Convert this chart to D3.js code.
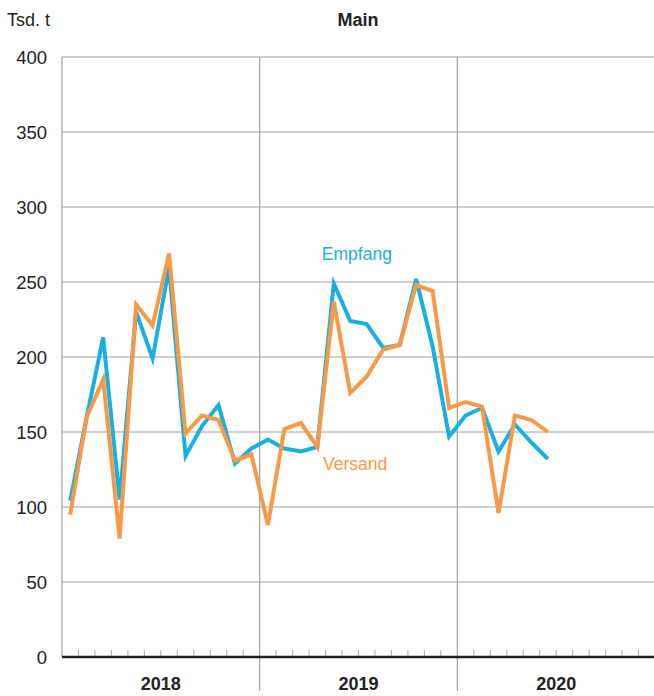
<!DOCTYPE html>
<html>
<head>
<meta charset="utf-8">
<script src="https://cdn.jsdelivr.net/npm/d3@7"></script>
<style>
  body { margin: 0; background: #fff; }
  text { font-family: "Liberation Sans", Arial, Helvetica, sans-serif; }
</style>
</head>
<body>
<div id="chart"></div>
<script>
// monthly values, Jan 2018 .. Jun 2020 (Tsd. t)
var years = ["2018", "2019", "2020"];
var empfang = [104, 160, 213, 105, 230, 199, 260, 134, 154, 168, 129, 139,
               145, 139, 137, 140, 249, 224, 222, 206, 208, 252, 207, 147,
               161, 166, 137, 155, 143, 132];
var versand = [95, 160, 185, 79, 235, 221, 269, 149, 161, 158, 131, 135,
               88, 152, 156, 140, 237, 176, 187, 205, 208, 248, 244, 166,
               170, 167, 96, 161, 158, 150];
var yTicks = [0, 50, 100, 150, 200, 250, 300, 350, 400];

var W = 654, H = 696;
var margin = { top: 57, right: 0, bottom: 39, left: 62 },
    width = 655 - margin.left,
    height = H - margin.top - margin.bottom;

var blue = "#19b0e0", orange = "#f79946";

var svg = d3.select("#chart").append("svg")
    .attr("width", W)
    .attr("height", H);

var g = svg.append("g")
    .attr("transform", "translate(" + margin.left + "," + margin.top + ")");

// 36 months on the axis
var x = d3.scaleLinear().domain([0, 36]).range([0, width]);
var y = d3.scaleLinear().domain([0, 400]).range([height, 0]);

// horizontal grid
g.selectAll(".hgrid")
    .data(yTicks.filter(function (d) { return d > 0; }))
    .enter().append("line")
    .attr("x1", 0).attr("x2", width)
    .attr("y1", function (d) { return y(d); })
    .attr("y2", function (d) { return y(d); })
    .attr("stroke", "#a0a0a0").attr("stroke-width", 1.2);

// y axis labels
g.selectAll(".ylab")
    .data(yTicks)
    .enter().append("text")
    .attr("x", -15)
    .attr("y", function (d) { return y(d); })
    .attr("dy", "0.36em")
    .attr("text-anchor", "end")
    .attr("font-size", 18.5)
    .attr("fill", "#222")
    .text(function (d) { return d; });

// left axis line
g.append("line")
    .attr("x1", 0).attr("x2", 0)
    .attr("y1", 0).attr("y2", height)
    .attr("stroke", "#a0a0a0").attr("stroke-width", 1.2);

// year separators
g.selectAll(".ysep")
    .data([12, 24])
    .enter().append("line")
    .attr("x1", function (d) { return x(d); })
    .attr("x2", function (d) { return x(d); })
    .attr("y1", 0).attr("y2", height + 34)
    .attr("stroke", "#a0a0a0").attr("stroke-width", 1.2);

// month ticks
g.selectAll(".mtick")
    .data(d3.range(1, 36).filter(function (d) { return d % 12 != 0; }))
    .enter().append("line")
    .attr("x1", function (d) { return x(d); })
    .attr("x2", function (d) { return x(d); })
    .attr("y1", height - 7).attr("y2", height)
    .attr("stroke", "#aaa").attr("stroke-width", 1);

// baseline
g.append("line")
    .attr("x1", 0).attr("x2", width)
    .attr("y1", height).attr("y2", height)
    .attr("stroke", "#222").attr("stroke-width", 2.5);

// year labels
g.selectAll(".year")
    .data(years)
    .enter().append("text")
    .attr("x", function (d, i) { return x(i * 12 + 6); })
    .attr("y", height + 33)
    .attr("text-anchor", "middle")
    .attr("font-size", 18)
    .attr("font-weight", "bold")
    .attr("fill", "#222")
    .text(function (d) { return d; });

var line = d3.line()
    .x(function (d, i) { return x(i + 0.5); })
    .y(function (d) { return y(d); });

g.append("path")
    .datum(empfang)
    .attr("d", line)
    .attr("fill", "none")
    .attr("stroke", blue)
    .attr("stroke-width", 4);

g.append("path")
    .datum(versand)
    .attr("d", line)
    .attr("fill", "none")
    .attr("stroke", orange)
    .attr("stroke-width", 4);

// series labels
g.append("text")
    .attr("x", x(17.9)).attr("y", y(265))
    .attr("text-anchor", "middle")
    .attr("font-size", 17.5)
    .attr("fill", blue)
    .text("Empfang");

g.append("text")
    .attr("x", x(17.8)).attr("y", y(125))
    .attr("text-anchor", "middle")
    .attr("font-size", 17.5)
    .attr("fill", orange)
    .text("Versand");

// title + unit
svg.append("text")
    .attr("x", 358).attr("y", 26)
    .attr("text-anchor", "middle")
    .attr("font-size", 18)
    .attr("font-weight", "bold")
    .attr("fill", "#222")
    .text("Main");

svg.append("text")
    .attr("x", 7).attr("y", 26)
    .attr("font-size", 18)
    .attr("fill", "#222")
    .text("Tsd. t");
</script>
</body>
</html>
